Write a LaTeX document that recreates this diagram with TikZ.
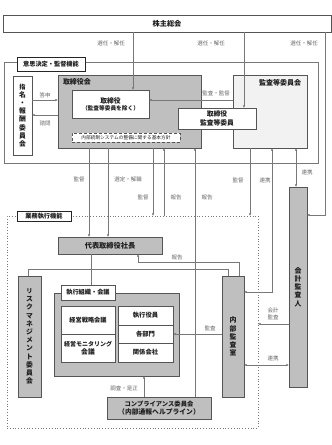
\documentclass[tikz,border=0pt]{standalone}
\usepackage{fontspec}
\setmainfont{Noto Sans CJK JP}
\usetikzlibrary{arrows.meta}
\definecolor{gfill}{RGB}{191,191,191}
\definecolor{lfill}{RGB}{242,242,242}
\definecolor{bord}{RGB}{85,85,85}
\definecolor{ln}{RGB}{120,120,120}
\definecolor{txt}{RGB}{30,30,30}
\definecolor{ltxt}{RGB}{105,105,105}
\newcommand{\bx}[7]{\node[#2, anchor=north west, minimum width={(#5-#3)*1pt}, minimum height={(#6-#4)*1pt}] (#1) at (#3,#4) {#7};}
\begin{document}
\begin{tikzpicture}[x=1pt,y=-1pt,
 box/.style={draw=bord, line width=0.8pt, inner sep=0pt, outer sep=0pt, align=center, font=\fontsize{6.8}{8.2}\selectfont\bfseries, text=txt},
 gbox/.style={box, fill=gfill},
 wbox/.style={box, fill=white},
 lbox/.style={box, fill=lfill},
 tagbox/.style={draw=black!85, line width=1pt, fill=white, inner sep=0pt, outer sep=0pt, font=\fontsize{6.2}{7}\selectfont\bfseries, text=txt},
 lab/.style={font=\fontsize{5.5}{6.8}\selectfont, text=ltxt, inner sep=0pt, align=center},
 conn/.style={draw=ln, line width=0.8pt},
 arr/.style={conn, -{Latex[length=2.6pt,width=2.4pt]}},
 barr/.style={conn, {Latex[length=2.6pt,width=2.4pt]}-{Latex[length=2.6pt,width=2.4pt]}},
]
\fill[white] (0,0) rectangle (332,445);
\useasboundingbox (0,0) rectangle (332,445);

% frames
\bx{frameA}{draw=ln, line width=0.8pt, inner sep=0pt, outer sep=0pt}{4}{62}{318}{163}{}
\bx{frameB}{draw=ln, line width=0.8pt, dotted, inner sep=0pt, outer sep=0pt}{7}{216}{258}{428}{}
\bx{tagA}{tagbox}{17}{57}{85}{71}{意思決定・監督機能}
\bx{tagB}{tagbox}{17}{211}{71}{221}{業務執行機能}

% top
\bx{kabu}{wbox}{3}{15}{331}{32}{\fontsize{7.2}{8}\selectfont 株主総会}

% decision / supervision
\bx{shimei}{wbox}{13}{76}{32}{155}{\fontsize{6.2}{9.7}\selectfont 指\\名\\・\\報\\酬\\委\\員\\会}
\bx{torikai}{gbox}{58}{75}{201}{148}{}
\node[box, draw=none, anchor=north west, font=\fontsize{7}{8}\selectfont\bfseries] (torikaiT) at (63,79) {取締役会};
\bx{kansa}{lbox}{233}{75}{307}{148}{}
\node[box, draw=none, anchor=north east, font=\fontsize{7}{8}\selectfont\bfseries] (kansaT) at (301,79) {監査等委員会};
\bx{tori1}{wbox}{72}{90}{149}{118}{取締役\\[-1pt]{\fontsize{5.7}{7}\selectfont （監査等委員を除く）}}
\bx{tori2}{wbox}{178}{108}{256}{129}{取締役\\監査等委員}
\bx{kihon}{draw=bord, line width=0.6pt, densely dashed, fill=white, inner sep=0pt, outer sep=0pt, font=\fontsize{4.7}{5.5}\selectfont, text=txt}{72}{133}{180}{142}{内部統制システムの整備に関する基本方針}

% execution
\bx{daihyo}{gbox}{58}{237}{162}{254}{\fontsize{7.2}{8}\selectfont 代表取締役社長}
\bx{risk}{gbox}{18}{276}{41}{397}{\fontsize{6.2}{9.6}\selectfont リ\\ス\\ク\\マ\\ネ\\ジ\\メ\\ン\\ト\\委\\員\\会}
\bx{naibu}{gbox}{222}{276}{244}{397}{\fontsize{7}{11.7}\selectfont 内\\部\\監\\査\\室}
\bx{kaikei}{gbox}{289}{187}{307}{387}{\fontsize{7}{11}\selectfont 会\\計\\監\\査\\人}
\bx{shikko}{gbox}{54}{293}{179}{376}{}
\bx{shikkoT}{wbox}{61}{285}{115}{300}{\fontsize{6.2}{7}\selectfont 執行組織・会議}
\bx{senryaku}{wbox}{61}{306}{115}{334}{\fontsize{6.2}{7}\selectfont 経営戦略会議}
\bx{monitor}{wbox}{61}{334}{115}{362}{\fontsize{6}{7.6}\selectfont 経営モニタリング\\会議}
\bx{yakuin}{wbox}{118}{306}{173}{325}{\fontsize{6.3}{7}\selectfont 執行役員}
\bx{bumon}{wbox}{118}{325}{173}{343}{\fontsize{6.3}{7}\selectfont 各部門}
\bx{kankei}{wbox}{118}{343}{173}{362}{\fontsize{6.3}{7}\selectfont 関係会社}
\bx{comp}{gbox}{107}{397}{211}{419}{\fontsize{6.3}{7.6}\selectfont コンプライアンス委員会\\（内部通報ヘルプライン）}

% helper coordinates
\coordinate (c133) at (133,0);
\coordinate (c244) at (244,0);
\coordinate (c325) at (325,0);
\coordinate (y215) at (0,215);
\coordinate (y100) at (0,100);
\coordinate (y115) at (0,115);
\coordinate (c89) at (89,0);
\coordinate (c108) at (108,0);
\coordinate (c153) at (153,0);
\coordinate (c164) at (164,0);
\coordinate (c195) at (195,0);
\coordinate (c250) at (250,0);
\coordinate (c272) at (272,0);
\coordinate (c296) at (296,0);
\coordinate (y292) at (0,292);
\coordinate (c239) at (239,0);
\coordinate (c138) at (138,0);
\coordinate (y262) at (0,262);
\coordinate (c91) at (91,0);
\coordinate (y269) at (0,269);
\coordinate (c28) at (28,0);
\coordinate (c228) at (228,0);
\coordinate (y334) at (0,334);
\coordinate (y324) at (0,324);
\coordinate (y365) at (0,365);
\coordinate (c144) at (144,0);

% top connectors
\draw[arr] (kabu.south -| c133) -- (tori1.north -| c133);
\draw[arr] (kabu.south -| c244) -- (tori2.north -| c244);
\draw[arr] (kabu.south -| c325) -- (c325 |- y215) -- (kaikei.east |- y215);
\node[lab] at (111,43) {選任・解任};
\node[lab] at (211,43) {選任・解任};
\node[lab] at (304,43) {選任・解任};

\draw[arr] (shimei.east |- y100) -- (torikai.west |- y100);
\draw[arr] (torikai.west |- y115) -- (shimei.east |- y115);
\node[lab] at (45,95) {答申};
\node[lab] at (45,123) {諮問};
\draw[arr] (kansa.west |- y100) -- (tori1.east |- y100);
\node[lab] at (216,93) {監査・監督};

% from board down
\draw[arr] (torikai.south -| c89) -- (daihyo.north -| c89);
\draw[arr] (torikai.south -| c108) -- (daihyo.north -| c108);
\draw[arr] (torikai.south -| c153) -- (frameB.north -| c153);
\draw[arr] (frameB.north -| c164) -- (torikai.south -| c164);
\draw[arr] (comp.north -| c195) -- (torikai.south -| c195);
\node[lab] at (79,179) {監督};
\node[lab] at (128,179) {選定・解職};
\node[lab] at (143,197) {監督};
\node[lab] at (176,197) {報告};
\node[lab] at (207,197) {報告};

\draw[arr] (kansa.south -| c250) -- (frameB.north -| c250);
\draw[barr] (kansa.south -| c272) -- (c272 |- y292) -- (naibu.east |- y292);
\draw[barr] (kansa.south -| c296) -- (kaikei.north -| c296);
\node[lab] at (238,180) {監督};
\node[lab] at (265,180) {連携};
\node[lab] at (307,172) {連携};

% execution connectors
\draw[arr] (naibu.north -| c239) -- (c239 |- y262) -- (c138 |- y262) -- (daihyo.south -| c138);
\node[lab] at (177,257) {報告};
\draw[conn] (daihyo.south -| c91) -- (shikkoT.north -| c91);
\draw[conn] (risk.north -| c28) -- (c28 |- y269) -- (c228 |- y269) -- (naibu.north -| c228);
\draw[arr] (naibu.west |- y334) -- (bumon.east |- y334);
\node[lab] at (210,328) {監査};
\draw[arr] (kaikei.west |- y324) -- (frameB.east |- y324);
\node[lab] at (273,314) {会計\\監査};
\draw[barr] (naibu.east |- y365) -- (kaikei.west |- y365);
\node[lab] at (273,358) {連携};
\draw[arr] (comp.north -| c144) -- (shikko.south -| c144);
\node[lab] at (124,388) {調査・是正};
\end{tikzpicture}
\end{document}
